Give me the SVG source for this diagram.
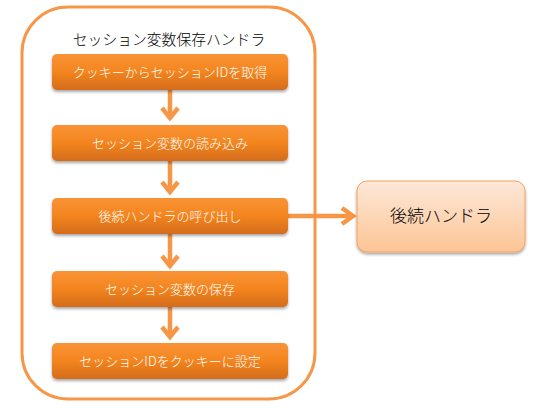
<svg xmlns="http://www.w3.org/2000/svg" width="547" height="415" viewBox="0 0 547 415">
<defs>
<linearGradient id="gOrange" x1="0" y1="0" x2="0" y2="1">
<stop offset="0" stop-color="#FA9335"/>
<stop offset="0.5" stop-color="#F3851F"/>
<stop offset="1" stop-color="#D46C1E"/>
</linearGradient>
<linearGradient id="gPeach" x1="0" y1="0" x2="0" y2="1">
<stop offset="0" stop-color="#FEE8D8"/>
<stop offset="1" stop-color="#FCC595"/>
</linearGradient>
<filter id="sh" x="-10%" y="-20%" width="120%" height="150%">
<feGaussianBlur in="SourceAlpha" stdDeviation="1.5"/>
<feOffset dx="0" dy="2" result="b"/>
<feComponentTransfer><feFuncA type="linear" slope="0.35"/></feComponentTransfer>
<feMerge><feMergeNode/><feMergeNode in="SourceGraphic"/></feMerge>
</filter>
</defs>
<style>
.step{fill:url(#gOrange);filter:url(#sh)}
.stxt{font-family:"Noto Sans CJK JP","Liberation Sans",sans-serif;font-size:13px;font-weight:300;fill:#ffffff;text-anchor:middle}
.conn{stroke:#F79646;stroke-width:4.5;fill:none}
.head{stroke:#F79646;stroke-width:4.5;fill:none;stroke-linejoin:miter}
</style>
<g id="container">
<rect x="22" y="7" width="293" height="392" rx="46" fill="#ffffff" stroke="#F79646" stroke-width="3"/>
<text x="169" y="45" font-family="'Noto Sans CJK JP','Liberation Sans',sans-serif" font-size="14.8" font-weight="300" fill="#000000" text-anchor="middle">セッション変数保存ハンドラ</text>
</g>
<g id="connectors">
<line class="conn" x1="170" y1="90" x2="170" y2="119"/>
<polyline class="head" points="162,108 170,118 178,108"/>
<line class="conn" x1="170" y1="161" x2="170" y2="193"/>
<polyline class="head" points="162,182 170,192 178,182"/>
<line class="conn" x1="170" y1="234" x2="170" y2="267"/>
<polyline class="head" points="162,256 170,266 178,256"/>
<line class="conn" x1="170" y1="307" x2="170" y2="338"/>
<polyline class="head" points="162,327 170,337 178,327"/>
<line class="conn" x1="288" y1="216" x2="353" y2="216"/>
<polyline class="head" points="342,208 353,216 342,224"/>
</g>
<g id="n1">
<rect class="step" x="52" y="54" width="236" height="36" rx="5"/>
<text class="stxt" x="170" y="76.5">クッキーからセッションIDを取得</text>
</g>
<g id="n2">
<rect class="step" x="52" y="125" width="236" height="36" rx="5"/>
<text class="stxt" x="170" y="147.5">セッション変数の読み込み</text>
</g>
<g id="n3">
<rect class="step" x="52" y="198" width="236" height="36" rx="5"/>
<text class="stxt" x="170" y="220.5">後続ハンドラの呼び出し</text>
</g>
<g id="n4">
<rect class="step" x="52" y="271" width="236" height="36" rx="5"/>
<text class="stxt" x="170" y="293.5">セッション変数の保存</text>
</g>
<g id="n5">
<rect class="step" x="52" y="343" width="236" height="36" rx="5"/>
<text class="stxt" x="170" y="365.5">セッションIDをクッキーに設定</text>
</g>
<g id="n6">
<rect x="357" y="181" width="168" height="71" rx="10" fill="url(#gPeach)" stroke="#F5A25F" stroke-width="1" filter="url(#sh)"/>
<text x="441" y="222" font-family="'Noto Sans CJK JP','Liberation Sans',sans-serif" font-size="17" font-weight="300" fill="#000000" text-anchor="middle">後続ハンドラ</text>
</g>
</svg>
